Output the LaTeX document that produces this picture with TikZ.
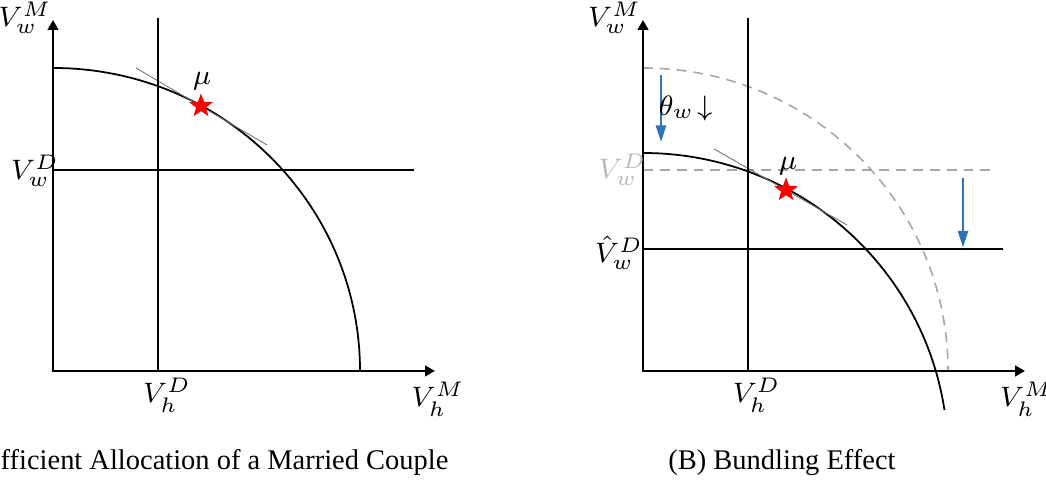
\documentclass[tikz,border=0pt]{standalone}
\usepackage{amsmath}
\usepackage{fontspec}
\setmainfont{Liberation Serif}
\usepackage{tikz}
\usetikzlibrary{arrows.meta,shapes.geometric}
\definecolor{arrowblue}{RGB}{46,117,182}

\begin{document}
\begin{tikzpicture}[>={Triangle[length=2.8pt,width=3pt]},
  axisline/.style={line width=0.6pt},
  frontier/.style={line width=0.5pt},
  tangentline/.style={line width=0.25pt, black!55},
  oldline/.style={line width=0.45pt, black!35, dash pattern=on 2.8pt off 2pt},
  shiftarrow/.style={line width=0.55pt, arrowblue, -{Triangle[length=4.7pt,width=2.9pt]}},
  lbl/.style={font=\fontsize{8}{9.6}\selectfont, inner sep=0pt},
  optimum/.style={star, star points=5, star point ratio=2.4, fill=red, minimum size=0.25cm, inner sep=0pt},
  capt/.style={font=\fontsize{8.1}{9.7}\selectfont, inner sep=0pt}]
\useasboundingbox (0,0) rectangle (10.46,4.83);

% (A) efficient allocation
\begin{scope}[shift={(0.53,1.12)}]
\coordinate (Ao) at (0,0);
\coordinate (Ay) at (0,3.51);
\coordinate (Ax) at (3.82,0);
\draw[frontier] (0,3.03) arc (90:0:3.07 and 3.03);
\draw[tangentline] (0.83,3.03) -- (2.14,2.26);
\draw[axisline,<->] (Ay) -- (Ao) -- (Ax);
\draw[axisline] (1.05,0) -- (1.05,3.53);
\draw[axisline] (0,2.01) -- (3.61,2.01);
\node[optimum] (Astar) at (1.48,2.65) {};
\node[lbl] (Amu) at (1.49,2.895) {$\mu$};
\node[lbl] (AVwM) at (-0.28,3.53) {$V_w^M$};
\node[lbl] (AVwD) at (-0.18,2.00) {$V_w^D$};
\node[lbl] (AVhD) at (1.14,-0.24) {$V_h^D$};
\node[lbl] (AVhM) at (3.85,-0.28) {$V_h^M$};
\node[capt, anchor=base west] (Acap) at (-0.53,-0.985) {fficient Allocation of a Married Couple};
\end{scope}

% (B) bundling effect
\begin{scope}[shift={(6.43,1.12)}]
\coordinate (Bo) at (0,0);
\coordinate (By) at (0,3.51);
\coordinate (Bx) at (3.82,0);
\draw[oldline] (0,3.03) arc (90:0:3.05 and 3.03);
\draw[oldline] (0,2.01) -- (3.53,2.01);
\draw[frontier] (0,2.18) arc (90:8.7:3.05 and 3.03);
\draw[tangentline] (0.71,2.22) -- (2.04,1.46);
\draw[axisline,<->] (By) -- (Bo) -- (Bx);
\draw[axisline] (1.05,0) -- (1.05,3.53);
\draw[axisline] (0,1.22) -- (3.60,1.22);
% shifts
\coordinate (s1a) at (0.18,2.96);
\coordinate (s1b) at (0.18,2.29);
\coordinate (s2a) at (3.20,1.93);
\coordinate (s2b) at (3.20,1.235);
\draw[shiftarrow] (s1a) -- (s1b);
\draw[shiftarrow] (s2a) -- (s2b);
\node[lbl] (Btheta) at (0.425,2.63) {$\theta_w\!\downarrow$};
\node[optimum] (Bstar) at (1.43,1.81) {};
\node[lbl] (Bmu) at (1.45,2.05) {$\mu$};
\node[lbl] (BVwM) at (-0.285,3.53) {$V_w^M$};
\node[lbl, black!28] (BVwD) at (-0.205,2.01) {$V_w^D$};
\node[lbl] (BVwDhat) at (-0.24,1.18) {$\hat{V}_w^D$};
\node[lbl] (BVhD) at (1.135,-0.24) {$V_h^D$};
\node[lbl] (BVhM) at (3.835,-0.28) {$V_h^M$};
\node[capt, anchor=base] (Bcap) at (1.39,-0.985) {(B) Bundling Effect};
\end{scope}
\end{tikzpicture}
\end{document}
